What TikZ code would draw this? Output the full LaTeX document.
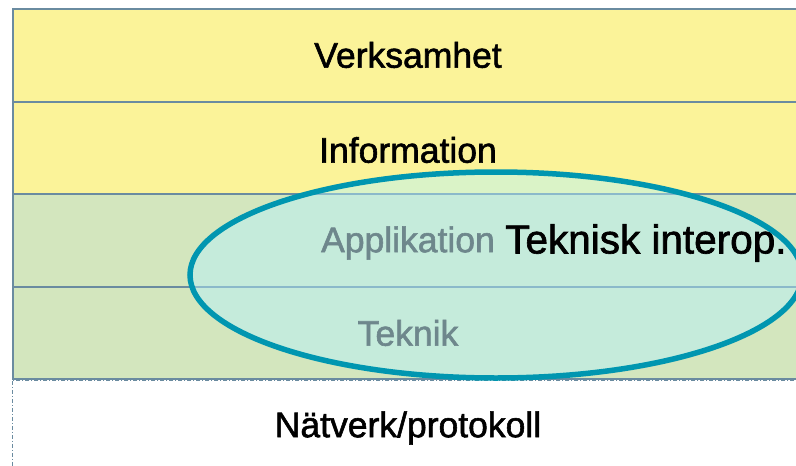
\documentclass[tikz,border=0pt]{standalone}
\usepackage{fontspec}
\setmainfont{Liberation Sans}
\newfontfamily\heavyfont{Liberation Sans}[FakeBold=1.6]
\usetikzlibrary{shapes.geometric}
\definecolor{rowyellow}{RGB}{251,243,153}
\definecolor{rowgreen}{RGB}{211,230,190}
\definecolor{rowline}{RGB}{106,139,160}
\definecolor{ringcol}{RGB}{0,150,176}
\definecolor{ringfill}{RGB}{180,243,255}
\definecolor{graytext}{RGB}{110,135,140}
\tikzset{
  layer/.style={draw=rowline, line width=2pt, minimum width=800pt, minimum height=92.5pt,
    inner sep=0pt},
  yellowlayer/.style={layer, fill=rowyellow},
  greenlayer/.style={layer, fill=rowgreen},
  netlayer/.style={draw=rowline, line width=0.8pt, dash pattern=on 4pt off 2pt on 1pt off 2pt,
    fill=white, minimum width=800pt, minimum height=100pt, inner sep=0pt},
  ring/.style={ellipse, draw=ringcol, line width=5.5pt, fill=ringfill, fill opacity=0.45,
    draw opacity=1, minimum width=612pt, minimum height=206pt, inner sep=0pt},
  label/.style={font=\heavyfont\fontsize{35.5}{40}\selectfont, inner sep=0pt, text=black},
  graylabel/.style={label, text=graytext},
  bigtext/.style={font=\heavyfont\fontsize{40.5}{44}\selectfont, inner sep=0pt, anchor=west}
}
\begin{document}
\begin{tikzpicture}[x=1pt,y=-1pt]
\useasboundingbox (0,0) rectangle (796,466);
\clip (0,0) rectangle (796,466);
\fill[white] (0,0) rectangle (796,466);
\node[netlayer, anchor=north west] (net) at (12,379.5) {};
\node[yellowlayer, anchor=north west] (verk) at (12,8) {};
\node[yellowlayer, anchor=north west] (info) at (12,100.5) {};
\node[greenlayer, anchor=north west] (app) at (12,193) {};
\node[greenlayer, anchor=north west] (tek) at (12,285.5) {};
\node[ring] (ring) at (496,275) {};
\node[label] (tverk) at (408,55) {Verksamhet};
\node[label] (tinfo) at (408,150) {Information};
\node[graylabel] (tapp) at (408,243) {Applikation};
\node[graylabel] (ttek) at (408,333) {Teknik};
\node[label] (tnet) at (408,428) {Nätverk/protokoll};
\node[bigtext] (tint) at (505,243) {Teknisk interop.};
\end{tikzpicture}
\end{document}
